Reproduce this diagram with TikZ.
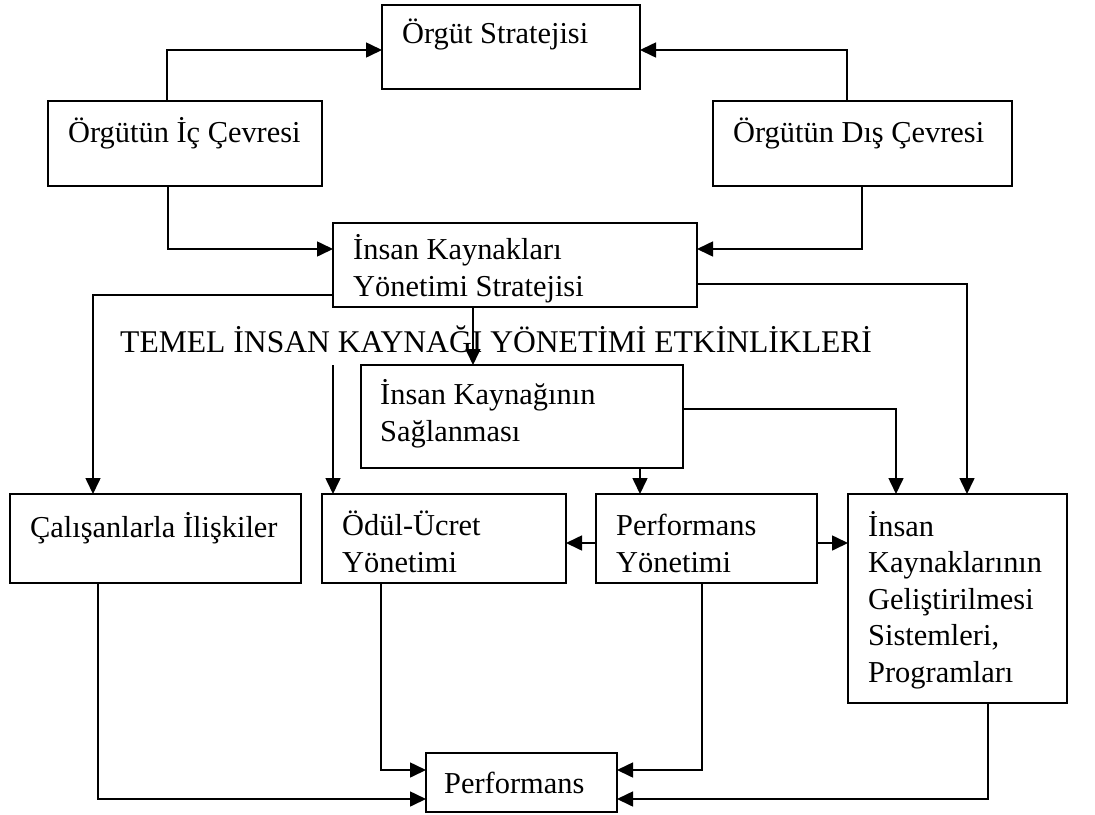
\documentclass[tikz,border=0pt]{standalone}
\usepackage{fontspec}
\setmainfont{Liberation Serif}
\usetikzlibrary{arrows.meta}
\begin{document}
\begin{tikzpicture}[x=1pt,y=-1pt,
  box/.style={draw, line width=1.6pt, rectangle, inner sep=0pt, outer sep=0pt, anchor=north west},
  txt/.style={anchor=base west, inner sep=0pt, align=left, font=\fontsize{30.4}{36.5}\selectfont},
  arr/.style={line width=1.6pt, -{Triangle[length=16pt,width=15pt]}},
  ln/.style={line width=1.6pt}]
\useasboundingbox (0,0) rectangle (1095,814);

% boxes
\node[box, minimum width=258pt, minimum height=84pt]  (strat) at (382,5)   {};
\node[box, minimum width=274pt, minimum height=85pt]  (ic)    at (48,101)  {};
\node[box, minimum width=299pt, minimum height=85pt]  (dis)   at (713,101) {};
\node[box, minimum width=364pt, minimum height=84pt]  (iky)   at (333,223) {};
\node[box, minimum width=322pt, minimum height=103pt] (sag)   at (361,365) {};
\node[box, minimum width=291pt, minimum height=89pt]  (cal)   at (10,494)  {};
\node[box, minimum width=244pt, minimum height=89pt]  (odul)  at (322,494) {};
\node[box, minimum width=221pt, minimum height=89pt]  (py)    at (596,494) {};
\node[box, minimum width=219pt, minimum height=209pt] (ikg)   at (848,494) {};
\node[box, minimum width=191pt, minimum height=59pt]  (perf)  at (426,753) {};

% texts (anchored at the baseline of their last line)
\node[txt] (strat-t) at (402,43)  {Örgüt Stratejisi};
\node[txt] (ic-t)    at (68,142)  {Örgütün İç Çevresi};
\node[txt] (dis-t)   at (733,142) {Örgütün Dış Çevresi};
\node[txt] (iky-t)   at (353,296) {İnsan Kaynakları\\Yönetimi Stratejisi};
\node[txt] (sag-t)   at (380,441) {İnsan Kaynağının\\Sağlanması};
\node[txt] (cal-t)   at (30,537)  {Çalışanlarla İlişkiler};
\node[txt] (odul-t)  at (342,572) {Ödül-Ücret\\Yönetimi};
\node[txt] (py-t)    at (616,572) {Performans\\Yönetimi};
\node[txt] (ikg-t)   at (868,682) {İnsan\\Kaynaklarının\\Geliştirilmesi\\Sistemleri,\\Programları};
\node[txt] (perf-t)  at (444,793) {Performans};
\node[txt, font=\fontsize{31.6}{36.5}\selectfont] (head) at (120,352) {TEMEL İNSAN KAYNAĞI YÖNETİMİ ETKİNLİKLERİ};

% bend points
\coordinate (b1)  at (167,50);
\coordinate (b2)  at (847,50);
\coordinate (b3)  at (168,249);
\coordinate (b4)  at (862,249);
\coordinate (b5)  at (93,295);
\coordinate (b6)  at (967,284);
\coordinate (b7)  at (473,330);
\coordinate (s1)  at (333,365);
\coordinate (b8)  at (896,409);
\coordinate (b9)  at (640,480);
\coordinate (b10) at (700,543);
\coordinate (b11) at (98,799);
\coordinate (b12) at (381,770);
\coordinate (b13) at (702,770);
\coordinate (b14) at (988,799);

% connectors
\draw[arr] (ic.north -| b1) -- (b1) -- (strat.west |- b1);
\draw[arr] (dis.north -| b2) -- (b2) -- (strat.east |- b2);
\draw[arr] (ic.south -| b3) -- (b3) -- (iky.west |- b3);
\draw[arr] (dis.south -| b4) -- (b4) -- (iky.east |- b4);
\draw[arr] (iky.west |- b5) -- (b5) -- (cal.north -| b5);
\draw[arr] (iky.east |- b6) -- (b6) -- (ikg.north -| b6);
\draw[arr] (iky.south -| b7) -- (sag.north -| b7);
\draw[arr] (s1) -- (odul.north -| s1);
\draw[arr] (sag.east |- b8) -- (b8) -- (ikg.north -| b8);
\draw[arr] (sag.south -| b9) -- (py.north -| b9);
\draw[arr] (py.west |- b10) -- (odul.east |- b10);
\draw[arr] (py.east |- b10) -- (ikg.west |- b10);
\draw[arr] (cal.south -| b11) -- (b11) -- (perf.west |- b11);
\draw[arr] (odul.south -| b12) -- (b12) -- (perf.west |- b12);
\draw[arr] (py.south -| b13) -- (b13) -- (perf.east |- b13);
\draw[arr] (ikg.south -| b14) -- (b14) -- (perf.east |- b14);
\end{tikzpicture}
\end{document}
